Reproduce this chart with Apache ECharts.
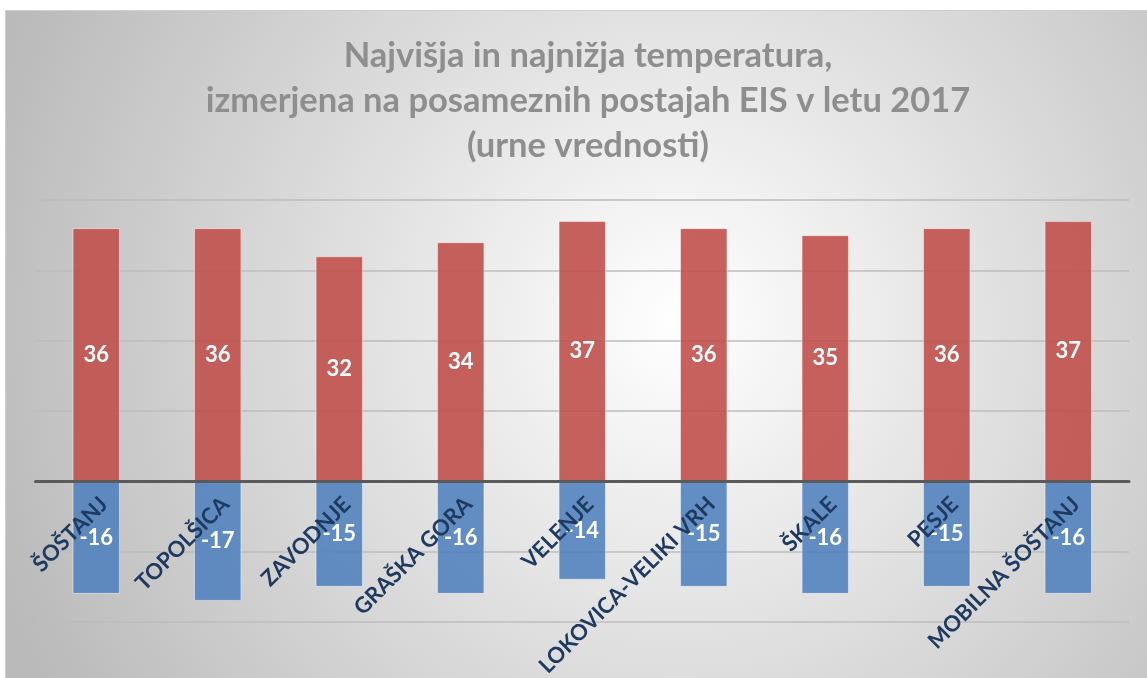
<!DOCTYPE html>
<html>
<head>
<meta charset="utf-8">
<script src="https://cdn.jsdelivr.net/npm/echarts@6/dist/echarts.min.js"></script>
<style>
  html, body { margin: 0; padding: 0; background: #fff; }
  #chart { width: 1147px; height: 678px; }
</style>
</head>
<body>
<div id="chart"></div>
<script>
// postaje EIS
const stations = ['ŠOŠTANJ', 'TOPOLŠICA', 'ZAVODNJE', 'GRAŠKA GORA', 'VELENJE',
  'LOKOVICA-VELIKI VRH', 'ŠKALE', 'PESJE', 'MOBILNA ŠOŠTANJ'];
// najvišja urna temperatura
const maxTemp = [36, 36, 32, 34, 37, 36, 35, 36, 37];
// najnižja urna temperatura
const minTemp = [-16, -17, -15, -16, -14, -15, -16, -15, -16];

const chart = echarts.init(document.getElementById('chart'));
const font = 'Lato, "Open Sans", sans-serif';

chart.setOption({
  animation: false,
  graphic: [{
    type: 'rect',
    z: -10,
    silent: true,
    shape: { x: 5.5, y: 10.5, width: 1160, height: 690 },
    style: {
      stroke: '#cfcfcf',
      lineWidth: 1,
      fill: new echarts.graphic.RadialGradient(0.58, 0.45, 1.05, [
        { offset: 0, color: '#ffffff' },
        { offset: 1, color: '#bababa' }
      ])
    }
  }],
  title: {
    text: 'Najvišja in najnižja temperatura,\nizmerjena na posameznih postajah EIS v letu 2017\n(urne vrednosti)',
    left: 583,
    textAlign: 'center',
    top: 28,
    textStyle: {
      fontFamily: font,
      fontSize: 34.5,
      fontWeight: 'bold',
      color: '#8e8e8e',
      lineHeight: 45
    }
  },
  grid: { left: 35.5, right: 18, top: 200, bottom: 56, outerBoundsMode: 'none', containLabel: false },
  xAxis: {
    type: 'category',
    data: stations,
    z: 10,
    axisTick: { show: false },
    axisLine: { onZero: true, lineStyle: { color: '#5a5a5a', width: 3 } },
    axisLabel: {
      interval: 0,
      rotate: 45,
      margin: -129,
      verticalAlign: 'top',
      fontFamily: font,
      fontSize: 22,
      fontWeight: 'bold',
      color: '#1f3a60'
    }
  },
  yAxis: {
    type: 'value',
    min: -20,
    max: 40,
    interval: 10,
    axisLabel: { show: false },
    axisLine: { show: false },
    axisTick: { show: false },
    splitLine: { lineStyle: { color: '#bcbcbc', width: 1.5 } }
  },
  series: [
    {
      name: 'max',
      type: 'bar',
      data: maxTemp,
      barWidth: '39%',
      barGap: '-100%',
      itemStyle: {
        color: 'rgba(192,80,77,0.9)',
        borderColor: 'rgba(255,255,255,0.45)',
        borderWidth: 1
      },
      label: {
        show: true,
        position: 'inside',
        fontFamily: font,
        fontSize: 22,
        fontWeight: 'bold',
        color: '#fff'
      }
    },
    {
      name: 'min',
      type: 'bar',
      data: minTemp,
      barWidth: '39%',
      barGap: '-100%',
      itemStyle: {
        color: 'rgba(79,129,189,0.88)',
        borderColor: 'rgba(255,255,255,0.45)',
        borderWidth: 1
      },
      label: {
        show: true,
        position: 'inside',
        fontFamily: font,
        fontSize: 22,
        fontWeight: 'bold',
        color: '#fff'
      }
    }
  ]
});
</script>
</body>
</html>
